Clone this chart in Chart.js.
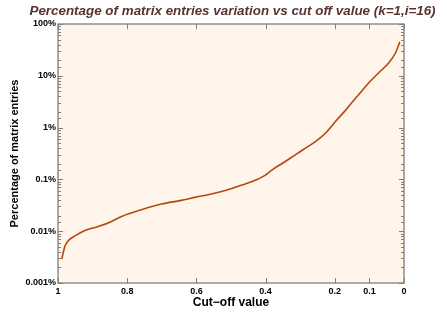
<!DOCTYPE html>
<html>
<head>
<meta charset="utf-8">
<script src="https://cdn.jsdelivr.net/npm/chart.js@4"></script>
<style>
  html, body { margin: 0; padding: 0; background: #ffffff; }
  #wrap { width: 447px; height: 319px; }
</style>
</head>
<body>
<div id="wrap"><canvas id="lineChart" width="447" height="319"></canvas></div>
<script>
// cut-off value (x) and percentage of matrix entries (y, in %)
const cutoff = [0.989, 0.980, 0.970, 0.951, 0.922, 0.884, 0.855, 0.816, 0.759, 0.701,
  0.644, 0.605, 0.557, 0.509, 0.471, 0.437, 0.403, 0.380, 0.351, 0.331,
  0.293, 0.254, 0.226, 0.197, 0.168, 0.159, 0.130, 0.101, 0.072, 0.043,
  0.024, 0.012];
const percent = [0.0029, 0.0051, 0.0066, 0.0081, 0.0103, 0.0123, 0.0144, 0.0193, 0.026, 0.0335,
  0.0394, 0.045, 0.0524, 0.0634, 0.0769, 0.092, 0.1185, 0.155, 0.205, 0.25,
  0.37, 0.547, 0.796, 1.34, 2.2, 2.61, 4.4, 7.4, 11.6, 18.1,
  28.2, 45.4];
const xTicks = [1, 0.8, 0.6, 0.4, 0.2, 0.1, 0];
const yDecades = [0.001, 0.01, 0.1, 1, 10, 100];
const titleText = "Percentage of matrix entries variation vs cut off value (k=1,i=16)";

const points = cutoff.map((c, i) => ({ x: c, y: percent[i] }));

function isDecade(v) {
  return yDecades.some(d => Math.abs(Math.log10(v) - Math.log10(d)) < 1e-6);
}

// nền vùng vẽ, tiêu đề, khung có vạch chia hướng vào trong
const frameTicks = {
  id: "frameTicks",
  beforeDraw(chart) {
    const a = chart.chartArea, c = chart.ctx;
    c.save();
    c.fillStyle = "#fff5ea";
    c.fillRect(a.left, a.top, a.right - a.left, a.bottom - a.top);
    c.fillStyle = "#5b3232";
    c.font = "italic bold 13.4px 'Liberation Sans'";
    c.textAlign = "center";
    c.textBaseline = "alphabetic";
    c.fillText(titleText, 232.5, 15);
    c.restore();
  },
  afterDatasetsDraw(chart) {
    const a = chart.chartArea, c = chart.ctx;
    const xs = chart.scales.x, ys = chart.scales.y;
    c.save();
    c.strokeStyle = "#7f7f7f";
    c.lineWidth = 1;
    c.beginPath();
    xTicks.forEach(v => {
      const px = Math.round(xs.getPixelForValue(v)) + 0.5;
      c.moveTo(px, a.bottom); c.lineTo(px, a.bottom - 5);
      c.moveTo(px, a.top); c.lineTo(px, a.top + 5);
    });
    ys.ticks.forEach(t => {
      const len = isDecade(t.value) ? 5 : 3;
      const py = Math.round(ys.getPixelForValue(t.value)) + 0.5;
      c.moveTo(a.left, py); c.lineTo(a.left + len, py);
      c.moveTo(a.right, py); c.lineTo(a.right - len, py);
    });
    c.stroke();
    c.lineWidth = 1.3;
    c.strokeRect(a.left, a.top, a.right - a.left, a.bottom - a.top);
    c.restore();
  }
};

const ctx = document.getElementById("lineChart").getContext("2d");

const chart = new Chart(ctx, {
  type: "line",
  data: {
    datasets: [{
      data: points,
      borderColor: "#b8470f",
      borderWidth: 1.6,
      pointRadius: 0,
      cubicInterpolationMode: "monotone",
      fill: false
    }]
  },
  options: {
    responsive: false,
    animation: false,
    events: [],
    layout: { padding: { left: 0, right: 43, top: 24, bottom: 0 } },
    plugins: {
      legend: { display: false },
      tooltip: { enabled: false },
      title: { display: false }
    },
    scales: {
      x: {
        type: "linear",
        reverse: true,
        min: 0,
        max: 1,
        afterBuildTicks: (scale) => { scale.ticks = xTicks.map(v => ({ value: v })); },
        afterFit: (scale) => { scale.height = 36; },
        grid: { display: false, drawTicks: false },
        border: { display: false },
        ticks: {
          padding: 3,
          color: "#000",
          maxRotation: 0,
          autoSkip: false,
          font: { family: "Liberation Sans", size: 9, weight: "bold" },
          callback: (v) => String(v)
        },
        title: {
          display: true,
          text: "Cut\u2212off value",
          color: "#000",
          font: { family: "Liberation Sans", size: 12, weight: "bold" },
          padding: { top: 0, bottom: 9.5 }
        }
      },
      y: {
        type: "logarithmic",
        min: 0.001,
        max: 100,
        afterFit: (scale) => { scale.width = 58; },
        grid: { display: false, drawTicks: false },
        border: { display: false },
        ticks: {
          padding: 2,
          color: "#000",
          autoSkip: false,
          font: { family: "Liberation Sans", size: 9, weight: "bold" },
          callback: (v) => {
            const d = yDecades.find(d => Math.abs(Math.log10(v) - Math.log10(d)) < 1e-6);
            return d === undefined ? "" : d + "%";
          }
        },
        title: {
          display: true,
          text: "Percentage of matrix entries",
          color: "#000",
          font: { family: "Liberation Sans", size: 11, weight: "bold" },
          padding: { top: 8.4, bottom: 0 }
        }
      }
    }
  },
  plugins: [frameTicks]
});
</script>
</body>
</html>
